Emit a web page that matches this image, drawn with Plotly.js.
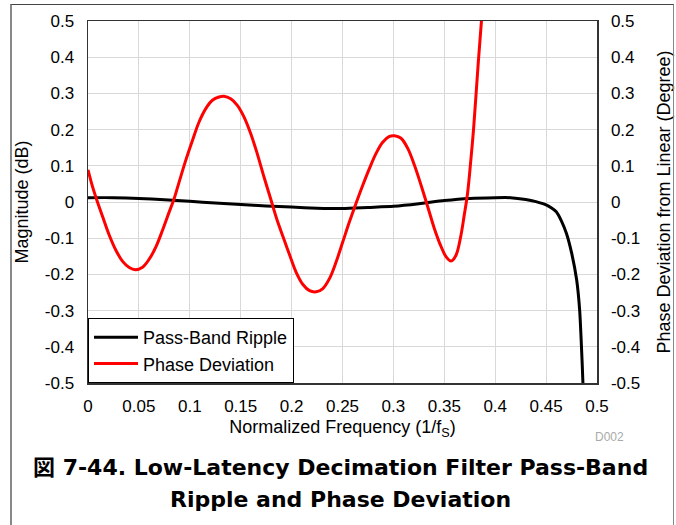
<!DOCTYPE html>
<html>
<head>
<meta charset="utf-8">
<script src="https://cdn.plot.ly/plotly-3.0.1.min.js"></script>
<style>
html,body{margin:0;padding:0;background:#fff;}
#wrap{position:relative;width:676px;height:525px;}
#chart{position:absolute;left:0;top:0;width:676px;height:525px;}
#frame{position:absolute;left:10px;top:4px;width:661px;height:530px;border-top:1.5px solid #444;border-left:2px solid #888;border-right:1.5px solid #888;pointer-events:none;}
</style>
</head>
<body>
<div id="wrap"><div id="chart"></div><div id="frame"></div></div>
<script>
// Pass-Band Ripple (magnitude, dB)
const rippleFreq = [0, 0.025, 0.05, 0.075, 0.1, 0.125, 0.15, 0.175, 0.2, 0.225, 0.25, 0.275, 0.3, 0.325, 0.35, 0.375, 0.4, 0.415, 0.43, 0.44, 0.45, 0.455, 0.46, 0.465, 0.47, 0.475, 0.48, 0.483, 0.4855, 0.487];
const rippleVal  = [0.012, 0.012, 0.010, 0.006, 0.002, -0.003, -0.007, -0.011, -0.014, -0.017, -0.018, -0.015, -0.012, -0.005, 0.004, 0.010, 0.012, 0.012, 0.007, 0.001, -0.008, -0.016, -0.027, -0.052, -0.087, -0.14, -0.215, -0.30, -0.45, -0.56];
// Phase Deviation from Linear (degree)
const phaseFreq = [0, 0.0046, 0.0088, 0.0144, 0.0209, 0.0275, 0.034, 0.0405, 0.0464, 0.0536, 0.0601, 0.0667, 0.0732, 0.0797, 0.0846, 0.0895, 0.096, 0.1026, 0.1091, 0.1157, 0.1222, 0.1287, 0.1336, 0.1402, 0.1467, 0.1532, 0.1598, 0.1663, 0.1729, 0.1794, 0.186, 0.1931, 0.198, 0.2046, 0.2111, 0.2176, 0.2242, 0.2307, 0.2373, 0.2438, 0.2503, 0.2569, 0.2634, 0.27, 0.2765, 0.2831, 0.2895, 0.2961, 0.301, 0.3075, 0.3141, 0.3206, 0.3271, 0.3337, 0.3402, 0.3468, 0.3517, 0.3566, 0.3615, 0.3664, 0.3696, 0.3729, 0.3762, 0.3787, 0.381, 0.3835, 0.3865, 0.389];
const phaseVal  = [0.089, 0.041, 0.004, -0.041, -0.092, -0.134, -0.164, -0.181, -0.187, -0.18, -0.158, -0.124, -0.078, -0.028, 0.009, 0.055, 0.115, 0.17, 0.221, 0.258, 0.281, 0.29, 0.292, 0.285, 0.267, 0.235, 0.189, 0.133, 0.069, 0.009, -0.052, -0.108, -0.146, -0.195, -0.228, -0.245, -0.248, -0.239, -0.211, -0.165, -0.11, -0.054, -0.003, 0.047, 0.093, 0.135, 0.165, 0.181, 0.183, 0.176, 0.148, 0.102, 0.047, -0.013, -0.073, -0.123, -0.151, -0.163, -0.147, -0.091, -0.036, 0.025, 0.12, 0.2, 0.29, 0.39, 0.5, 0.6];

const xTickVals = [0, 0.05, 0.1, 0.15, 0.2, 0.25, 0.3, 0.35, 0.4, 0.45, 0.5];
const xTickText = ["0", "0.05", "0.1", "0.15", "0.2", "0.25", "0.3", "0.35", "0.4", "0.45", "0.5"];
const yTickVals = [-0.5, -0.4, -0.3, -0.2, -0.1, 0, 0.1, 0.2, 0.3, 0.4, 0.5];
const yTickText = ["-0.5", "-0.4", "-0.3", "-0.2", "-0.1", "0", "0.1", "0.2", "0.3", "0.4", "0.5"];

const FONT = "Liberation Sans, Arial, sans-serif";
const CAPFONT = "DejaVu Sans, Noto Sans CJK JP, sans-serif";

const traces = [
  {x: rippleFreq, y: rippleVal, name: "Pass-Band Ripple", type: "scatter", mode: "lines",
   line: {color: "#000000", width: 3, shape: "spline", smoothing: 0.6}, yaxis: "y"},
  {x: phaseFreq, y: phaseVal, name: "Phase Deviation", type: "scatter", mode: "lines",
   line: {color: "#ff0000", width: 3, shape: "spline", smoothing: 1}, yaxis: "y2"}
];

const axisCommon = {
  showgrid: true, gridcolor: "#d9d9d9", gridwidth: 1, zeroline: false,
  showline: true, linecolor: "#333", linewidth: 1.5,
  ticks: "", tickfont: {family: FONT, size: 17, color: "#000"}
};

const layout = {
  width: 676, height: 525,
  margin: {l: 88, r: 79, t: 21, b: 142, pad: 0},
  paper_bgcolor: "#fff", plot_bgcolor: "#fff",
  font: {family: FONT, color: "#000"},
  showlegend: true,
  legend: {x: 0, y: 0, xanchor: "left", yanchor: "bottom", bgcolor: "#fff",
           bordercolor: "#000", borderwidth: 1, font: {family: FONT, size: 18, color: "#000"},
           itemwidth: 44, tracegroupgap: 0},
  xaxis: Object.assign({}, axisCommon, {
    range: [0, 0.5], tickvals: xTickVals, ticktext: xTickText, mirror: true,
    ticklabelstandoff: 7,
    title: {text: "Normalized Frequency (1/f<sub>S</sub>)", font: {family: FONT, size: 18, color: "#000"}, standoff: 5}
  }),
  yaxis: Object.assign({}, axisCommon, {
    range: [-0.5, 0.5], tickvals: yTickVals, ticktext: yTickText, ticklabelstandoff: 9,
    title: {text: "Magnitude (dB)", font: {family: FONT, size: 18, color: "#000"}, standoff: 11}
  }),
  yaxis2: Object.assign({}, axisCommon, {
    range: [-0.5, 0.5], tickvals: yTickVals, ticktext: yTickText, ticklabelstandoff: 9,
    overlaying: "y", side: "right", showgrid: false,
    title: {text: "Phase Deviation from Linear (Degree)", font: {family: FONT, size: 18, color: "#000"}, standoff: 18}
  }),
  annotations: [
    {text: "D002", xref: "paper", yref: "paper", x: 1.0255, y: -0.149, xanchor: "center", yanchor: "middle",
     showarrow: false, font: {family: FONT, size: 12, color: "#aaaaaa"}},
    {text: "<b>図 7-44. Low-Latency Decimation Filter Pass-Band</b>",
     xref: "paper", yref: "paper", x: 0.497, y: -0.2348, xanchor: "center", yanchor: "middle",
     showarrow: false, font: {family: CAPFONT, size: 22, color: "#000"}},
    {text: "<b>Ripple and Phase Deviation</b>",
     xref: "paper", yref: "paper", x: 0.497, y: -0.3232, xanchor: "center", yanchor: "middle",
     showarrow: false, font: {family: CAPFONT, size: 22, color: "#000"}}
  ]
};

Plotly.newPlot("chart", traces, layout, {staticPlot: true, displayModeBar: false});
</script>
</body>
</html>
